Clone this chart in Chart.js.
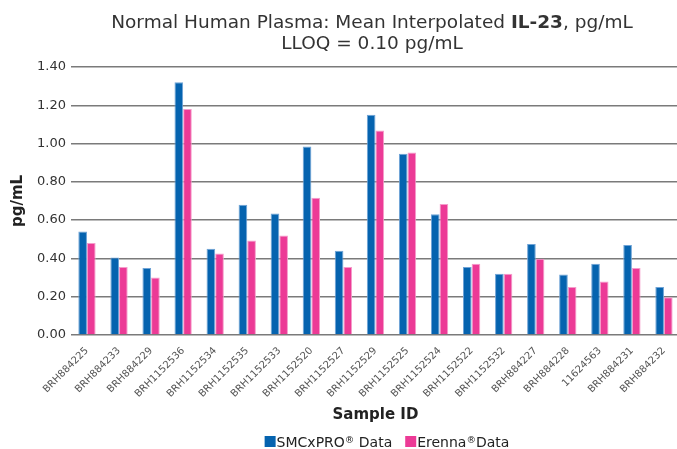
<!DOCTYPE html>
<html>
<head>
<meta charset="utf-8">
<script src="https://cdn.jsdelivr.net/npm/chart.js@4/dist/chart.umd.min.js"></script>
<style>
html, body { margin: 0; padding: 0; background: #fff; overflow: hidden; }
#wrap { width: 680px; height: 449px; }
</style>
</head>
<body>
<div id="wrap"><canvas id="barChart"></canvas></div>
<script>
const sampleIds = [
    "BRH884225", "BRH884233", "BRH884229", "BRH1152536", "BRH1152534",
    "BRH1152535", "BRH1152533", "BRH1152520", "BRH1152527", "BRH1152529",
    "BRH1152525", "BRH1152524", "BRH1152522", "BRH1152532", "BRH884227",
    "BRH884228", "11624563", "BRH884231", "BRH884232"
];
const smcxproValues = [0.54, 0.405, 0.35, 1.32, 0.45, 0.68, 0.635, 0.985, 0.44, 1.15,
    0.947, 0.63, 0.355, 0.32, 0.475, 0.316, 0.372, 0.47, 0.25];
const erennaValues = [0.48, 0.355, 0.30, 1.18, 0.426, 0.493, 0.52, 0.717, 0.355, 1.068,
    0.953, 0.684, 0.372, 0.32, 0.398, 0.25, 0.279, 0.35, 0.197];
const seriesNames = ["SMCxPRO\u00AE Data", "Erenna\u00AEData"];
const seriesColors = ["#0563af", "#ec3a96"];
const seriesBorders = ["#6fa3d6", "#f59ccb"];
const titleParts = [["Normal Human Plasma: Mean Interpolated ", "normal"], ["IL-23", "bold"], [", pg/mL", "normal"]];
const subtitle = "LLOQ = 0.10 pg/mL";

const fontFamily = "'DejaVu Sans', Verdana, sans-serif";
Chart.defaults.font.family = fontFamily;

// title with a bold part in the middle
const mixedTitle = {
    id: "mixedTitle",
    afterDraw(chart) {
        const ctx = chart.ctx;
        const cx = 372;
        ctx.save();
        ctx.fillStyle = "#333";
        ctx.textBaseline = "alphabetic";
        ctx.textAlign = "left";
        let total = 0;
        titleParts.forEach(p => {
            ctx.font = p[1] + " 18.5px " + fontFamily;
            total += ctx.measureText(p[0]).width;
        });
        let x = cx - total / 2;
        titleParts.forEach(p => {
            ctx.font = p[1] + " 18.5px " + fontFamily;
            ctx.fillText(p[0], x, 28);
            x += ctx.measureText(p[0]).width;
        });
        ctx.textAlign = "center";
        ctx.font = "normal 18.5px " + fontFamily;
        ctx.fillText(subtitle, cx, 49);
        ctx.restore();
    }
};

// legend with a small raised ® and the text tight to the swatch
function labelPieces(text) {
    const out = [];
    text.split("\u00AE").forEach((s, i) => {
        if (i > 0) out.push(["\u00AE", true]);
        if (s) out.push([s, false]);
    });
    return out;
}
const bottomLegend = {
    id: "bottomLegend",
    afterDraw(chart) {
        const ctx = chart.ctx;
        const base = 447;
        const box = 11, gapBox = 1, gapItem = 13;
        const mainFont = "14px " + fontFamily, supFont = "9.5px " + fontFamily;
        ctx.save();
        ctx.textBaseline = "alphabetic";
        ctx.textAlign = "left";
        const widths = chart.data.datasets.map(ds => {
            let w = 0;
            labelPieces(ds.label).forEach(p => {
                ctx.font = p[1] ? supFont : mainFont;
                w += ctx.measureText(p[0]).width;
            });
            return w;
        });
        let total = widths.reduce((a, b) => a + b, 0) + widths.length * (box + gapBox) + gapItem * (widths.length - 1);
        let x = 387 - total / 2;
        chart.data.datasets.forEach((ds, i) => {
            ctx.fillStyle = ds.backgroundColor;
            ctx.fillRect(x, base - box, box, box);
            x += box + gapBox;
            ctx.fillStyle = "#222";
            labelPieces(ds.label).forEach(p => {
                ctx.font = p[1] ? supFont : mainFont;
                ctx.fillText(p[0], x, p[1] ? base - 4 : base);
                x += ctx.measureText(p[0]).width;
            });
            x += gapItem;
        });
        ctx.restore();
    }
};

new Chart(document.getElementById("barChart"), {
    type: "bar",
    data: {
        labels: sampleIds,
        datasets: [{
            label: seriesNames[0],
            data: smcxproValues,
            backgroundColor: seriesColors[0],
            borderColor: seriesBorders[0],
            borderWidth: 1
        }, {
            label: seriesNames[1],
            data: erennaValues,
            backgroundColor: seriesColors[1],
            borderColor: seriesBorders[1],
            borderWidth: 1
        }]
    },
    options: {
        responsive: true,
        maintainAspectRatio: false,
        animation: false,
        layout: {
            padding: { top: 67, left: 3, right: 0, bottom: 25 }
        },
        datasets: {
            bar: {
                categoryPercentage: 0.54,
                barPercentage: 1.0
            }
        },
        plugins: {
            legend: { display: false },
            tooltip: { enabled: false }
        },
        scales: {
            x: {
                grid: { display: false },
                border: { display: false },
                ticks: {
                    maxRotation: 45,
                    minRotation: 45,
                    color: "#555",
                    font: { size: 10 },
                    padding: 2,
                    autoSkip: false
                },
                title: {
                    display: true,
                    text: "Sample ID",
                    color: "#222",
                    font: { size: 15, weight: "bold" },
                    padding: { top: 4, bottom: 0 }
                }
            },
            y: {
                min: 0,
                max: 1.4,
                grid: {
                    color: "#7a7a7a",
                    lineWidth: 1.4,
                    drawTicks: false
                },
                border: { display: false },
                ticks: {
                    stepSize: 0.2,
                    color: "#333",
                    font: { size: 13 },
                    padding: 5,
                    callback: v => v.toFixed(2)
                },
                title: {
                    display: true,
                    text: "pg/mL",
                    color: "#222",
                    font: { size: 15, weight: "bold" },
                    padding: { top: 6, bottom: 5 }
                }
            }
        }
    },
    plugins: [mixedTitle, bottomLegend]
});
</script>
</body>
</html>
